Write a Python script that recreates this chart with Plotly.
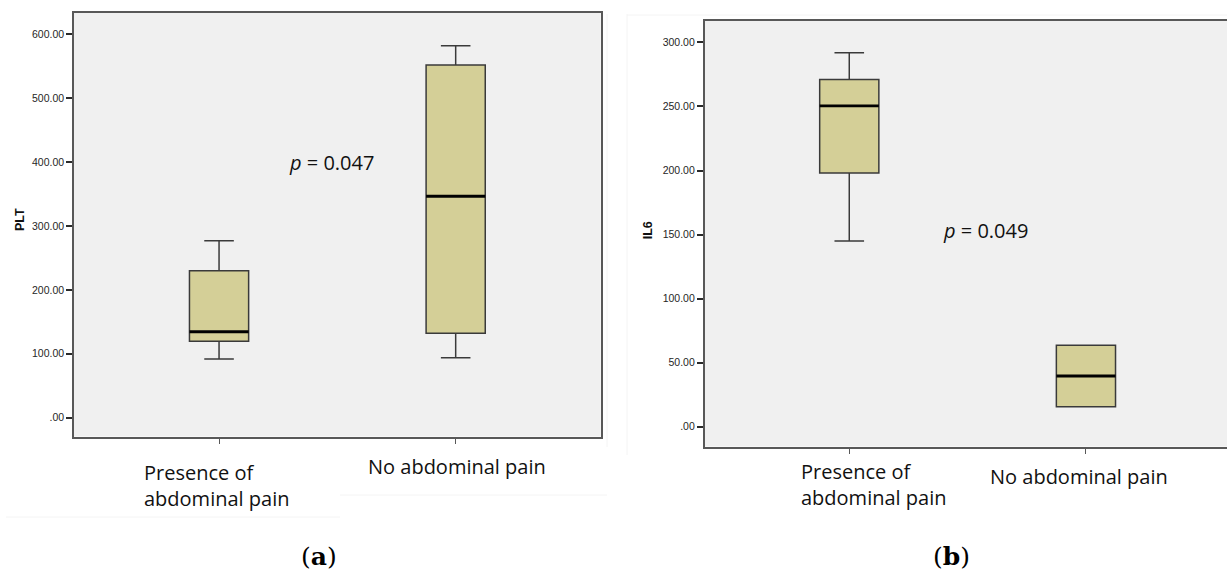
import plotly.graph_objects as go

# ---- data -------------------------------------------------------------
groups = ["Presence of abdominal pain", "No abdominal pain"]
positions = [0, 1]

# PLT (panel a): five-number summaries per group
plt_lower = [92, 94]
plt_q1 = [119.5, 132]
plt_median = [134.5, 346.5]
plt_q3 = [230, 552]
plt_upper = [277, 582]

# IL6 (panel b)
il6_lower = [145, 15.5]
il6_q1 = [198, 15.5]
il6_median = [250.5, 39.5]
il6_q3 = [271, 63.5]
il6_upper = [292, 63.5]

plt_ticks = [0, 100, 200, 300, 400, 500, 600]
plt_ticktext = [".00", "100.00", "200.00", "300.00", "400.00", "500.00", "600.00"]
il6_ticks = [0, 50, 100, 150, 200, 250, 300]
il6_ticktext = [".00", "50.00", "100.00", "150.00", "200.00", "250.00", "300.00"]

p_values = ["0.047", "0.049"]

# ---- style ------------------------------------------------------------
BOX_FILL = "#D4CF97"
BOX_LINE = "#3a3a3a"
FRAME = "#585858"
BG = "#F0F0F0"
BOX_W = 0.25
CAT_FONT = "Open Sans"

fig = go.Figure()


def add_panel(xa, ya, lower, q1, med, q3, upper):
    for i, pos in enumerate(positions):
        fig.add_trace(go.Box(
            x=[pos], q1=[q1[i]], median=[med[i]], q3=[q3[i]],
            lowerfence=[lower[i]], upperfence=[upper[i]],
            width=BOX_W, whiskerwidth=0.5,
            fillcolor=BOX_FILL,
            line=dict(color=BOX_LINE, width=1.5),
            boxpoints=False, hoverinfo="skip", showlegend=False,
            xaxis=xa, yaxis=ya,
        ))
    # heavier median bars drawn over the boxes
    for i, pos in enumerate(positions):
        fig.add_trace(go.Scatter(
            x=[pos - BOX_W / 2, pos + BOX_W / 2], y=[med[i], med[i]],
            mode="lines", line=dict(color="#000000", width=2.8),
            hoverinfo="skip", showlegend=False, xaxis=xa, yaxis=ya,
        ))


add_panel("x", "y", plt_lower, plt_q1, plt_median, plt_q3, plt_upper)
add_panel("x2", "y2", il6_lower, il6_q1, il6_median, il6_q3, il6_upper)

tick_font = dict(family="Liberation Sans, Arial", size=10.5, color="#262626")

xcommon = dict(
    tickvals=positions, showticklabels=False, ticks="outside", ticklen=6,
    tickwidth=1.2, tickcolor=FRAME, showline=True, linecolor=FRAME,
    linewidth=1.6, showgrid=False, zeroline=False, fixedrange=True,
)
ycommon = dict(
    ticks="outside", ticklen=6, tickwidth=1.6, tickcolor="#2a2a2a",
    tickfont=tick_font, showline=True, linecolor=FRAME, linewidth=1.6,
    showgrid=False, zeroline=False, fixedrange=True,
)

fig.update_layout(
    width=1227, height=579,
    margin=dict(l=0, r=0, t=0, b=0),
    paper_bgcolor="white", plot_bgcolor=BG,
    xaxis=dict(domain=[0.0603, 0.4896], range=[-0.613, 1.613],
               anchor="y", mirror=True, **xcommon),
    yaxis=dict(domain=[0.2461, 0.9784], range=[-29.4, 634], anchor="x",
               tickvals=plt_ticks, ticktext=plt_ticktext, mirror=True,
               **ycommon),
    xaxis2=dict(domain=[0.5743, 1.0], range=[-0.611, 1.596],
                anchor="y2", mirror=True, **xcommon),
    yaxis2=dict(domain=[0.2288, 0.9642], range=[-15.6, 317], anchor="x2",
                tickvals=il6_ticks, ticktext=il6_ticktext, mirror=False,
                **ycommon),
)

C = dict(xanchor="center", yanchor="middle", showarrow=False)
ann = []
# axis titles
title_font = dict(family="Liberation Sans, Arial", size=12.5, color="#111")
ann.append(dict(text="<b>PLT</b>", xref="paper", yref="paper", x=0.0163, y=0.62,
                textangle=-90, font=title_font, **C))
ann.append(dict(text="<b>IL6</b>", xref="paper", yref="paper", x=0.5284, y=0.6028,
                textangle=-90, font=title_font, **C))

cat_font = dict(family=CAT_FONT, size=20, color="#111")
# category labels, panel a
ann.append(dict(text="Presence of<br>abdominal pain", xref="x", yref="paper",
                x=positions[0], y=0.1617, xshift=-3, align="left",
                font=cat_font, **C))
ann.append(dict(text=groups[1], xref="x", yref="paper", x=positions[1], y=0.194,
                xshift=1, font=cat_font, **C))
# category labels, panel b
ann.append(dict(text="Presence of<br>abdominal pain", xref="x2", yref="paper",
                x=positions[0], y=0.1637, xshift=24, align="left",
                font=cat_font, **C))
ann.append(dict(text=groups[1], xref="x2", yref="paper", x=positions[1], y=0.1767,
                xshift=-7, font=cat_font, **C))

# p-values
p_font = dict(family=CAT_FONT, size=20, color="#111")
ann.append(dict(text="<i>p</i> = " + p_values[0], xref="x", yref="y", x=0.474, y=400,
                font=p_font, **C))
ann.append(dict(text="<i>p</i> = " + p_values[1], xref="x2", yref="y2", x=0.575, y=153.5,
                font=p_font, **C))

# panel letters
letter_font = dict(family="DejaVu Serif", size=25, color="#000")
ann.append(dict(text="(<b>a</b>)", xref="paper", yref="paper", x=0.2597, y=0.0385,
                font=letter_font, **C))
ann.append(dict(text="(<b>b</b>)", xref="paper", yref="paper", x=0.7752, y=0.0385,
                font=letter_font, **C))

fig.update_layout(annotations=ann)

# faint outlines of the panel frames
faint = dict(color="#F4F4F4", width=1)
fig.add_shape(type="line", xref="paper", yref="paper", x0=607 / 1227, x1=607 / 1227,
              y0=1 - 14 / 579, y1=1 - 447 / 579, line=faint)
fig.add_shape(type="line", xref="paper", yref="paper", x0=627 / 1227, x1=627 / 1227,
              y0=1 - 14 / 579, y1=1 - 455 / 579, line=faint)
fig.add_shape(type="line", xref="paper", yref="paper", x0=627 / 1227, x1=1,
              y0=1 - 15 / 579, y1=1 - 15 / 579, line=faint)
fig.add_shape(type="line", xref="paper", yref="paper", x0=6 / 1227, x1=340 / 1227,
              y0=1 - 517 / 579, y1=1 - 517 / 579, line=faint)
fig.add_shape(type="line", xref="paper", yref="paper", x0=340 / 1227, x1=607 / 1227,
              y0=1 - 495 / 579, y1=1 - 495 / 579, line=faint)

fig.write_html("out.html")
